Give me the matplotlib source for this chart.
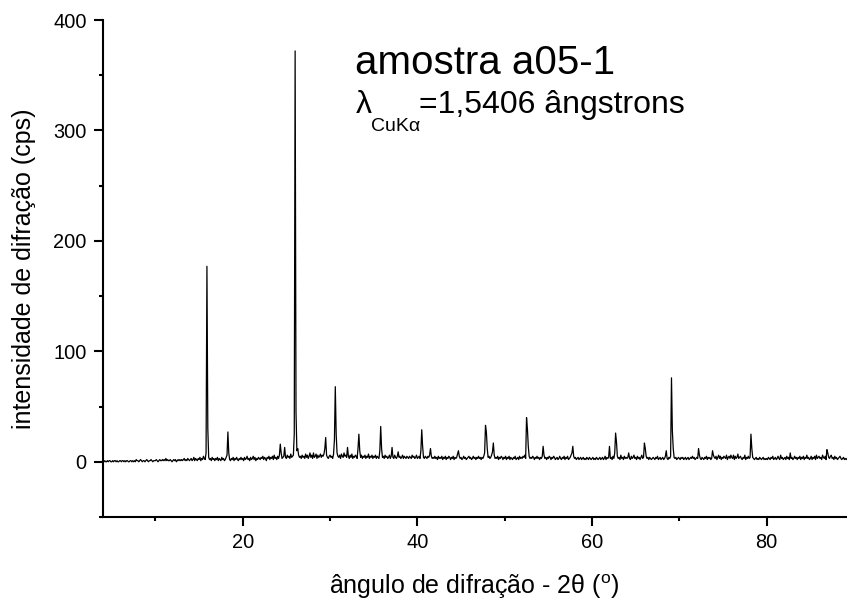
import numpy as np
import matplotlib
matplotlib.use("Agg")
import matplotlib.pyplot as plt
from matplotlib.ticker import MultipleLocator

plt.rcParams['font.family'] = ['Liberation Sans', 'DejaVu Sans']
plt.rcParams['mathtext.fontset'] = 'custom'
plt.rcParams['mathtext.rm'] = 'Liberation Sans'

# difratograma amostra a05-1, passo 0.1 grau a partir de 4.0
angulo_inicial = 4.0
passo = 0.1
intensidade = [
    1, 0, 1, 0, 0, 1, 0, 1, 1, 0,
    0, 1, 0, 1, 1, 0, 1, 0, 0, 1,
    1, 0, 1, 1, 0, 1, 0, 1, 1, 0,
    0, 1, 1, 0, 1, 0, 1, 0, 2, 1,
    1, 0, 1, 2, 1, 0, 1, 1, 0, 1,
    2, 1, 0, 1, 1, 2, 1, 0, 1, 1,
    1, 2, 1, 0, 1, 2, 1, 1, 2, 1,
    2, 1, 3, 1, 2, 1, 1, 2, 1, 0,
    1, 2, 1, 2, 0, 1, 2, 1, 2, 1,
    2, 1, 2, 3, 1, 2, 1, 3, 2, 1,
    2, 3, 1, 2, 4, 1, 3, 2, 1, 3,
    2, 4, 1, 3, 2, 5, 3, 2, 8, 177,
    30, 4, 2, 3, 1, 4, 2, 3, 1, 3,
    2, 4, 1, 3, 2, 1, 4, 2, 3, 1,
    2, 4, 6, 27, 8, 2, 1, 3, 2, 4,
    1, 3, 2, 4, 2, 1, 3, 2, 4, 2,
    3, 1, 4, 2, 3, 5, 2, 3, 1, 4,
    2, 3, 5, 2, 4, 1, 3, 2, 4, 3,
    2, 4, 3, 5, 2, 4, 3, 1, 4, 3,
    5, 2, 4, 3, 5, 2, 6, 3, 4, 2,
    5, 3, 6, 16, 8, 3, 4, 5, 13, 4,
    3, 6, 4, 5, 3, 7, 4, 5, 6, 25,
    372, 45, 10, 12, 6, 4, 5, 3, 6, 4,
    5, 3, 7, 4, 6, 3, 5, 8, 4, 6,
    3, 8, 4, 5, 7, 3, 6, 4, 5, 7,
    4, 6, 5, 7, 12, 22, 6, 4, 3, 5,
    6, 4, 5, 3, 7, 20, 68, 25, 8, 5,
    4, 6, 3, 7, 5, 4, 8, 5, 6, 4,
    13, 5, 3, 6, 4, 7, 3, 5, 4, 6,
    5, 3, 12, 25, 10, 4, 6, 3, 5, 4,
    6, 3, 5, 4, 7, 3, 5, 4, 6, 3,
    5, 4, 6, 3, 5, 4, 3, 10, 32, 12,
    4, 5, 3, 6, 4, 5, 3, 4, 6, 3,
    5, 13, 4, 3, 6, 4, 3, 5, 9, 4,
    5, 3, 4, 6, 3, 5, 4, 3, 5, 4,
    3, 5, 4, 3, 6, 4, 5, 3, 4, 6,
    3, 4, 5, 3, 10, 29, 14, 4, 3, 5,
    4, 3, 5, 4, 6, 12, 5, 3, 4, 3,
    5, 3, 4, 2, 5, 3, 4, 3, 5, 2,
    4, 3, 5, 2, 4, 3, 5, 4, 2, 4,
    3, 5, 2, 4, 3, 4, 7, 10, 5, 3,
    4, 2, 3, 5, 3, 4, 2, 3, 4, 5,
    3, 4, 2, 3, 5, 3, 4, 2, 4, 3,
    5, 3, 4, 2, 4, 3, 5, 8, 33, 27,
    12, 4, 5, 3, 4, 6, 9, 17, 6, 3,
    4, 3, 5, 2, 4, 3, 5, 4, 2, 4,
    3, 5, 2, 4, 3, 5, 2, 4, 3, 2,
    4, 3, 5, 2, 3, 4, 2, 5, 3, 4,
    3, 5, 4, 6, 3, 40, 30, 14, 5, 3,
    4, 3, 5, 4, 2, 4, 3, 5, 3, 4,
    2, 4, 3, 5, 14, 6, 3, 4, 2, 4,
    3, 5, 4, 2, 4, 3, 5, 4, 2, 3,
    4, 2, 3, 5, 3, 2, 4, 3, 5, 2,
    4, 3, 5, 2, 3, 4, 6, 8, 14, 5,
    3, 4, 2, 3, 4, 2, 3, 4, 2, 3,
    4, 2, 3, 2, 4, 3, 2, 4, 3, 2,
    3, 4, 2, 3, 2, 4, 3, 2, 3, 4,
    2, 3, 4, 2, 3, 5, 2, 4, 3, 4,
    14, 3, 4, 2, 5, 3, 8, 26, 18, 5,
    3, 4, 2, 6, 3, 4, 2, 5, 3, 4,
    3, 4, 8, 3, 2, 5, 3, 4, 6, 3,
    4, 2, 5, 3, 4, 2, 4, 6, 3, 4,
    17, 12, 5, 3, 4, 2, 4, 3, 2, 3,
    4, 3, 2, 4, 3, 5, 2, 3, 4, 2,
    3, 4, 2, 3, 5, 10, 3, 2, 4, 3,
    5, 76, 28, 12, 4, 3, 4, 2, 3, 4,
    3, 2, 4, 3, 4, 2, 3, 4, 2, 3,
    4, 2, 3, 4, 3, 5, 3, 4, 2, 3,
    4, 3, 12, 6, 3, 2, 4, 3, 2, 4,
    3, 5, 2, 4, 3, 4, 2, 3, 10, 6,
    4, 3, 5, 2, 4, 6, 3, 5, 2, 4,
    3, 5, 4, 3, 6, 2, 4, 5, 3, 6,
    4, 3, 6, 2, 5, 3, 4, 7, 3, 4,
    5, 3, 2, 4, 3, 6, 2, 4, 3, 5,
    3, 4, 25, 12, 4, 3, 2, 3, 4, 2,
    3, 2, 4, 3, 2, 3, 4, 2, 3, 2,
    3, 2, 4, 3, 2, 4, 3, 5, 2, 3,
    4, 2, 3, 5, 3, 2, 6, 3, 4, 2,
    3, 4, 2, 5, 3, 4, 2, 8, 3, 4,
    2, 3, 5, 3, 4, 2, 4, 3, 5, 2,
    4, 3, 5, 2, 4, 3, 6, 3, 4, 2,
    3, 5, 2, 4, 3, 5, 2, 6, 3, 4,
    5, 3, 4, 2, 6, 4, 3, 5, 2, 11,
    8, 4, 3, 5, 6, 3, 4, 2, 5, 3,
    4, 2, 3, 4, 5, 3, 2, 3, 4, 2,
    3, 2, 3,
]

intensidade = np.array(intensidade, dtype=float)
angulo = angulo_inicial + passo * np.arange(len(intensidade))

W, H = 847, 608
fig = plt.figure(figsize=(W / 100, H / 100), dpi=100)
ax = fig.add_axes([102.5 / W, 1 - 517 / H, (W - 102.5) / W, (517 - 20) / H])

ax.plot(angulo, intensidade, color='black', lw=0.9)

ax.set_xlim(3.94, 89.2)
ax.set_ylim(-50, 400)
ax.xaxis.set_major_locator(MultipleLocator(20))
ax.xaxis.set_minor_locator(MultipleLocator(10))
ax.yaxis.set_major_locator(MultipleLocator(100))
ax.yaxis.set_minor_locator(MultipleLocator(50))

for s in ['top', 'right']:
    ax.spines[s].set_visible(False)
for s in ['left', 'bottom']:
    ax.spines[s].set_linewidth(1.5)

ax.tick_params(which='major', direction='out', length=6.5, width=1.5, labelsize=14.4, pad=5)
ax.tick_params(which='minor', direction='out', length=3.2, width=1.5)

ax.set_xlabel('ângulo de difração - 2θ ($^{\\mathrm{o}}$)', fontsize=18, labelpad=15)
ax.set_ylabel('intensidade de difração (cps)', fontsize=18, labelpad=12)

# textos do canto superior
fig.text(355 / W, 1 - 74 / H, 'amostra a05-1', fontsize=29, ha='left', va='baseline')
fig.text(356 / W, 1 - 113 / H, 'λ', fontsize=23, ha='left', va='baseline')
fig.text(371 / W, 1 - 131 / H, 'CuKα', fontsize=14, ha='left', va='baseline')
fig.text(419 / W, 1 - 113 / H, '=1,5406 ângstrons', fontsize=23, ha='left', va='baseline')

fig.savefig('out.png', dpi=100)
